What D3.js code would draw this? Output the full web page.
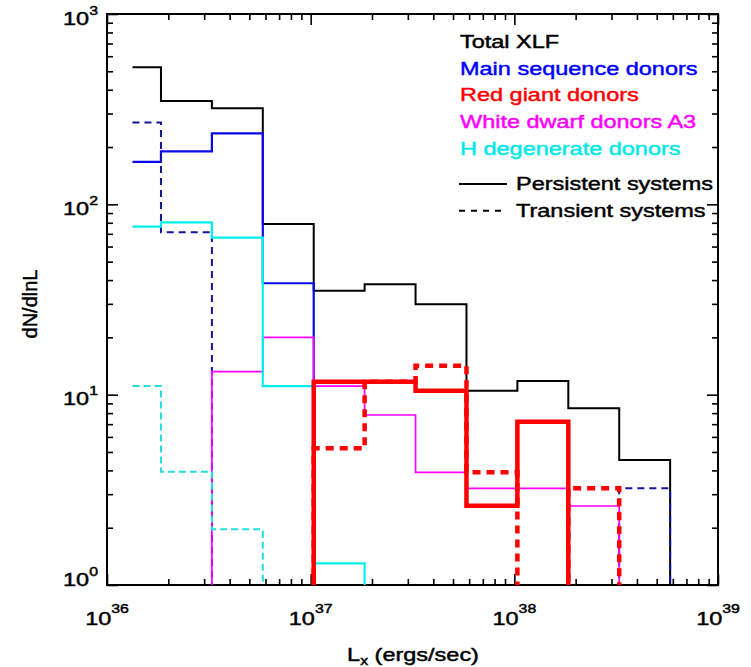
<!DOCTYPE html>
<html>
<head>
<meta charset="utf-8">
<script src="https://cdn.jsdelivr.net/npm/d3@7"></script>
<style>
  html, body { margin: 0; padding: 0; background: #fff; }
  svg { display: block; font-family: "Liberation Sans", Arial, Helvetica, sans-serif; }
  text { stroke-width: 0.45px; }
</style>
</head>
<body>
<svg id="chart" width="751" height="667"></svg>
<script>
// Luminosity bin edges, log10(Lx / erg s^-1)
const binEdgesLog = [36.125, 36.265, 36.515, 36.765, 37.015, 37.265, 37.515, 37.765, 38.015, 38.265, 38.515, 38.765];

// dN/dlnL per bin (0 = empty bin)
const totalXLF      = [525, 349, 320, 78.8, 35.2, 38.0, 29.9, 10.5, 11.8, 8.48, 4.54];
const msPersistent  = [167, 190, 236, 38.5, 0, 0, 0, 0, 0, 0, 0];
const msTransient   = [269, 71.3, 0, 0, 0, 0, 0, 0, 0, 0, 3.22];
const rgPersistent  = [0, 0, 0, 0, 11.7, 11.7, 10.5, 2.61, 7.21, 0, 0];
const rgTransient   = [0, 0, 0, 0, 5.23, 11.7, 14.2, 3.91, 0, 3.22, 0];
const wdPersistent  = [0, 0, 13.2, 20.0, 11.1, 7.82, 3.91, 3.22, 3.22, 2.60, 0];
const hdPersistent  = [76.3, 80.4, 66.8, 11.1, 1.30, 0, 0, 0, 0, 0, 0];
const hdTransient   = [11.1, 3.94, 1.96, 0, 0, 0, 0, 0, 0, 0, 0];

// Axis ticks
const xMajorExp = [36, 37, 38, 39];
const yMajorExp = [0, 1, 2, 3];

// Legend entries
const legendNames  = ["Total XLF", "Main sequence donors", "Red giant donors", "White dwarf donors A3", "H degenerate donors"];
const legendColors = ["#000000", "#0000ff", "#ff0000", "#ff00ff", "#00e8e8"];
const styleNames   = ["Persistent systems", "Transient systems"];

const margin = { left: 107, top: 14 };
const width = 611, height = 571;
const sx = 1.27;       // horizontal stretch of lettering
const fs = 18.5;       // base font size

const svg = d3.select("#chart");
const g = svg.append("g").attr("transform", `translate(${margin.left},${margin.top})`);

const x = d3.scaleLog().domain([1e36, 1e39]).range([0, width]);
const y = d3.scaleLog().domain([1, 1000]).range([height, 0]);

// Minor and major tick values
const minorVals = (lo, hi) => {
  const out = [];
  for (let e = lo; e < hi; e++) for (let m = 2; m <= 9; m++) out.push(m * Math.pow(10, e));
  return out;
};
const xMinor = minorVals(36, 39), yMinor = minorVals(0, 3);
const xMajor = xMajorExp.map(e => Math.pow(10, e));
const yMajor = yMajorExp.map(e => Math.pow(10, e));

function drawAxis(axisGen, transform, vals, size) {
  const a = g.append("g").attr("transform", transform)
    .call(axisGen.tickValues(vals).tickSize(size).tickSizeOuter(0).tickFormat(() => ""));
  a.select(".domain").remove();
  a.selectAll(".tick line").attr("stroke", "#000").attr("stroke-width", 1.6);
}
[[xMinor, 6], [xMajor, 11]].forEach(([v, s]) => {
  drawAxis(d3.axisBottom(x), `translate(0,${height})`, v, -s);
  drawAxis(d3.axisTop(x), `translate(0,0)`, v, -s);
});
[[yMinor, 6], [yMajor, 11]].forEach(([v, s]) => {
  drawAxis(d3.axisLeft(y), `translate(0,0)`, v, -s);
  drawAxis(d3.axisRight(y), `translate(${width},0)`, v, -s);
});

// Frame
g.append("rect").attr("x", 0).attr("y", 0).attr("width", width).attr("height", height)
  .attr("fill", "none").attr("stroke", "#000").attr("stroke-width", 2);

// Histogram steps
g.append("clipPath").attr("id", "plotClip").append("rect")
  .attr("x", 0).attr("y", 0).attr("width", width).attr("height", height);
const plot = g.append("g").attr("clip-path", "url(#plotClip)");

const yv = v => (v > 0 ? y(v) : height + 20);
function stepPath(values) {
  const xs = binEdgesLog.map(e => x(Math.pow(10, e)));
  let p = `M${xs[0]},${yv(values[0])}`;
  for (let i = 0; i < values.length; i++) {
    p += `H${xs[i + 1]}`;
    p += `V${i + 1 < values.length ? yv(values[i + 1]) : height + 20}`;
  }
  return p;
}

const series = [
  { v: totalXLF,     c: "#000000", w: 2,   d: null },
  { v: msPersistent, c: "#0a0ae6", w: 2.2, d: null },
  { v: msTransient,  c: "#14149a", w: 2,   d: "7,5" },
  { v: wdPersistent, c: "#ff00ff", w: 1.7, d: null },
  { v: hdPersistent, c: "#00f0f0", w: 2.2, d: null },
  { v: hdTransient,  c: "#22dede", w: 2,   d: "7,4" },
  { v: rgPersistent, c: "#ff0000", w: 4.5, d: null },
  { v: rgTransient,  c: "#ff0000", w: 4.5, d: "8,6" }
];
series.forEach(s => {
  plot.append("path").attr("d", stepPath(s.v))
    .attr("fill", "none").attr("stroke", s.c).attr("stroke-width", s.w)
    .attr("stroke-dasharray", s.d).attr("stroke-linejoin", "miter").attr("stroke-linecap", "butt");
});

// Stretched text helper (a thin outline in the fill colour thickens the strokes)
function label(parent, tx, ty, anchor, color) {
  const c = color || "#000";
  return parent.append("text")
    .attr("transform", `translate(${tx},${ty}) scale(${sx},1)`)
    .attr("text-anchor", anchor).attr("fill", c).attr("stroke", c)
    .attr("font-size", fs);
}

// X tick labels: 10 with superscript exponent
xMajorExp.forEach(e => {
  const t = label(svg, margin.left + x(Math.pow(10, e)), 625, "middle");
  t.append("tspan").text("10");
  t.append("tspan").attr("dy", -12).attr("font-size", 12.5).text(String(e));
});

// Y tick labels
yMajorExp.forEach(e => {
  const base = e === 0 ? margin.top + height + 1 : margin.top + y(Math.pow(10, e)) + 10.5;
  const t = label(svg, 98, base, "end");
  t.append("tspan").text("10");
  t.append("tspan").attr("dy", -10).attr("font-size", 12.5).text(String(e));
});

// Axis titles
const xt = label(svg, 413, 661, "middle");
xt.append("tspan").text("L");
xt.append("tspan").attr("dy", 4).attr("font-size", 12.5).text("x");
xt.append("tspan").attr("dy", -4).text(" (ergs/sec)");

svg.append("text")
  .attr("transform", `translate(37,304) rotate(-90)`)
  .attr("text-anchor", "middle").attr("font-size", 20).attr("fill", "#000").attr("stroke", "#000")
  .text("dN/dlnL");

// Legend
legendNames.forEach((name, i) => {
  label(svg, 460, 48 + i * 26.7, "start", legendColors[i]).text(name);
});
const styleDash = [null, "6,6"];
styleNames.forEach((name, i) => {
  const ly = 184 + i * 26.7;
  svg.append("line").attr("x1", 459).attr("x2", 507).attr("y1", ly).attr("y2", ly)
    .attr("stroke", "#000").attr("stroke-width", 2).attr("stroke-dasharray", styleDash[i]);
  label(svg, 516, ly + 6, "start").text(name);
});
</script>
</body>
</html>
